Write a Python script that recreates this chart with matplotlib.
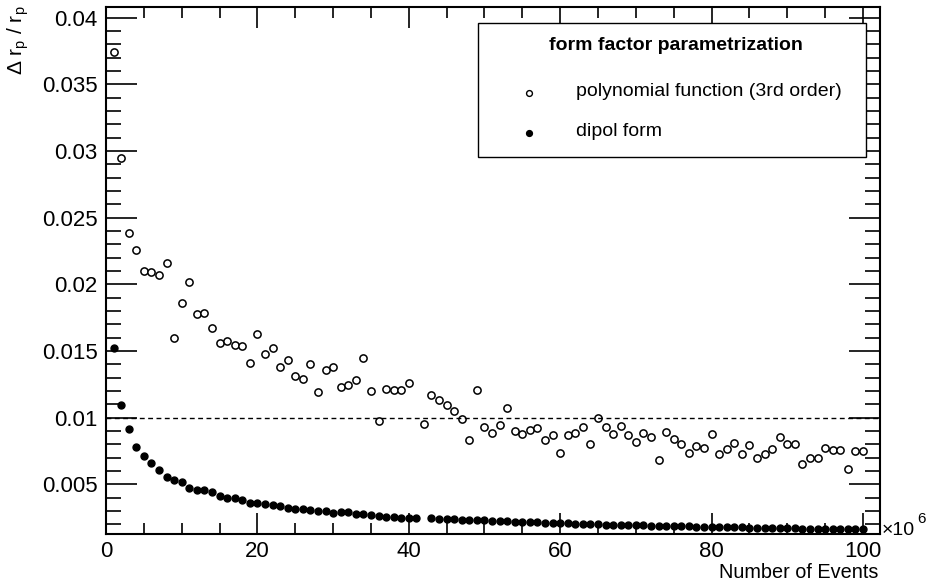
import numpy as np
import matplotlib
matplotlib.use("Agg")
import matplotlib.pyplot as plt
from matplotlib.patches import Rectangle
from matplotlib.ticker import MultipleLocator

plt.rcParams['font.family'] = ['Liberation Sans', 'DejaVu Sans']
plt.rcParams['mathtext.fontset'] = 'custom'
plt.rcParams['mathtext.rm'] = 'Liberation Sans'
plt.rcParams['mathtext.it'] = 'Liberation Sans'

# number of events (x 10^6) and relative radius uncertainty
poly_x = list(range(1, 41)) + list(range(42, 101))
poly_y = [0.03745, 0.02945, 0.02383, 0.02258, 0.02102, 0.02095, 0.02068, 0.02163, 0.0160, 0.01858,
          0.02018, 0.01775, 0.01788, 0.01675, 0.01563, 0.01575, 0.01548, 0.0154, 0.01413, 0.01628,
          0.01478, 0.01525, 0.0138, 0.0143, 0.01313, 0.01288, 0.01405, 0.01193, 0.01355, 0.01383,
          0.01228, 0.01243, 0.01283, 0.01445, 0.01198, 0.00975, 0.01213, 0.0121, 0.01208, 0.0126,
          0.00953, 0.01168, 0.01135, 0.01098, 0.0105, 0.00993, 0.0083, 0.01205, 0.00933,
          0.00885, 0.00943, 0.01073, 0.00903, 0.0088, 0.00908, 0.00923, 0.0083, 0.00868, 0.00738,
          0.00868, 0.00885, 0.00933, 0.008, 0.00998, 0.00928, 0.0088, 0.00935, 0.00868, 0.0082,
          0.00883, 0.00858, 0.0068, 0.00893, 0.00843, 0.008, 0.00738, 0.0079, 0.00775, 0.00875,
          0.00725, 0.00768, 0.0081, 0.00725, 0.00795, 0.00695, 0.00728, 0.00768, 0.00858, 0.008,
          0.00803, 0.00655, 0.00695, 0.007, 0.00775, 0.00755, 0.00755, 0.00613, 0.0075, 0.0075]

dipol_x = list(range(1, 42)) + list(range(43, 101))
dipol_y = [0.01525, 0.01097, 0.00915, 0.00783, 0.00713, 0.00658, 0.00605, 0.00555, 0.00533, 0.00518,
           0.0047, 0.0046, 0.00458, 0.00445, 0.00415, 0.00398, 0.00395, 0.00383, 0.00363, 0.00363,
           0.00353, 0.00345, 0.0034, 0.0032, 0.00315, 0.00315, 0.0031, 0.003, 0.00298, 0.00288,
           0.0029, 0.0029, 0.00278, 0.00275, 0.0027, 0.00265, 0.00258, 0.00253, 0.0025, 0.0025,
           0.0025, 0.00245, 0.00243, 0.0024, 0.00238, 0.00236, 0.00234, 0.00232, 0.0023,
           0.00226, 0.00226, 0.00222, 0.0022, 0.00218, 0.00216, 0.00215, 0.00213, 0.00212, 0.0021,
           0.00207, 0.00205, 0.00204, 0.00203, 0.002, 0.00198, 0.00197, 0.00196, 0.00194, 0.00193,
           0.00192, 0.0019, 0.00189, 0.00188, 0.00187, 0.00186, 0.00185, 0.00184, 0.00183, 0.00181,
           0.0018, 0.00179, 0.00178, 0.00177, 0.00176, 0.00175, 0.00174, 0.00173, 0.00172, 0.00171,
           0.0017, 0.00169, 0.00168, 0.00167, 0.00167, 0.00166, 0.00165, 0.00164, 0.00164, 0.00163]

ref_level = 0.01
legend_title = "form factor parametrization"
labels = ["polynomial function (3rd order)", "dipol form"]

fig = plt.figure(figsize=(9.28, 5.85), dpi=100)
ax = fig.add_axes([106/928, 1 - 534/585, 774/928, 527/585])

ax.plot(poly_x, poly_y, 'o', ms=5.2, mfc='white', mec='black', mew=1.1, ls='none')
ax.plot(dipol_x, dipol_y, 'o', ms=5.0, mfc='black', mec='black', ls='none')
ax.axhline(ref_level, color='black', lw=1.0, ls=(0, (3.5, 2.5)))

ax.set_xlim(0, 102.25)
ax.set_ylim(0.00128, 0.0408)
ax.xaxis.set_major_locator(MultipleLocator(20))
ax.xaxis.set_minor_locator(MultipleLocator(5))
ax.yaxis.set_major_locator(MultipleLocator(0.005))
ax.yaxis.set_minor_locator(MultipleLocator(0.001))
ax.yaxis.set_major_formatter(plt.FuncFormatter(lambda v, p: ('%g' % v) if v > 1e-9 else '0'))

ax.tick_params(which='both', direction='in', top=True, right=True, labelsize=16, width=1.2)
ax.tick_params(axis='y', which='major', length=22, pad=6)
ax.tick_params(axis='y', which='minor', length=11)
ax.tick_params(axis='x', which='major', length=15, pad=5)
ax.tick_params(axis='x', which='minor', length=8)
for s in ax.spines.values():
    s.set_linewidth(1.5)

fig.text(878/928, 1 - 572/585, "Number of Events", ha='right', va='center', fontsize=14.3)
fig.text(882/928, 1 - 535/585, "\u00d710", ha='left', va='baseline', fontsize=14)
fig.text(917/928, 1 - 523/585, "6", ha='left', va='baseline', fontsize=11)
fig.text(18/928, 1 - 5/585, r"$\Delta$ r$_{\rm p}$ / r$_{\rm p}$", rotation=90,
         ha='center', va='top', fontsize=15)

# legend box
bx0, bx1 = (478 - 106) / 774, (866 - 106) / 774
by0, by1 = (534 - 157) / 527, (534 - 22.7) / 527
ax.add_patch(Rectangle((bx0, by0), bx1 - bx0, by1 - by0, transform=ax.transAxes,
                       facecolor='white', edgecolor='black', lw=1.0, zorder=5))
ax.text((676 - 106) / 774, (534 - 45) / 527, legend_title, transform=ax.transAxes,
        ha='center', va='center', fontsize=14, fontweight='bold', zorder=6)
ax.plot([(529 - 106) / 774], [(534 - 93) / 527], 'o', ms=4.2, mfc='white', mec='black',
        mew=1.0, transform=ax.transAxes, zorder=6, clip_on=False)
ax.plot([(529 - 106) / 774], [(534 - 133) / 527], 'o', ms=4.2, mfc='black', mec='black',
        transform=ax.transAxes, zorder=6, clip_on=False)
ax.text((576 - 106) / 774, (534 - 92) / 527, labels[0], transform=ax.transAxes,
        ha='left', va='center', fontsize=14, zorder=6)
ax.text((576 - 106) / 774, (534 - 132) / 527, labels[1], transform=ax.transAxes,
        ha='left', va='center', fontsize=14, zorder=6)

fig.savefig("out.png", dpi=100)
